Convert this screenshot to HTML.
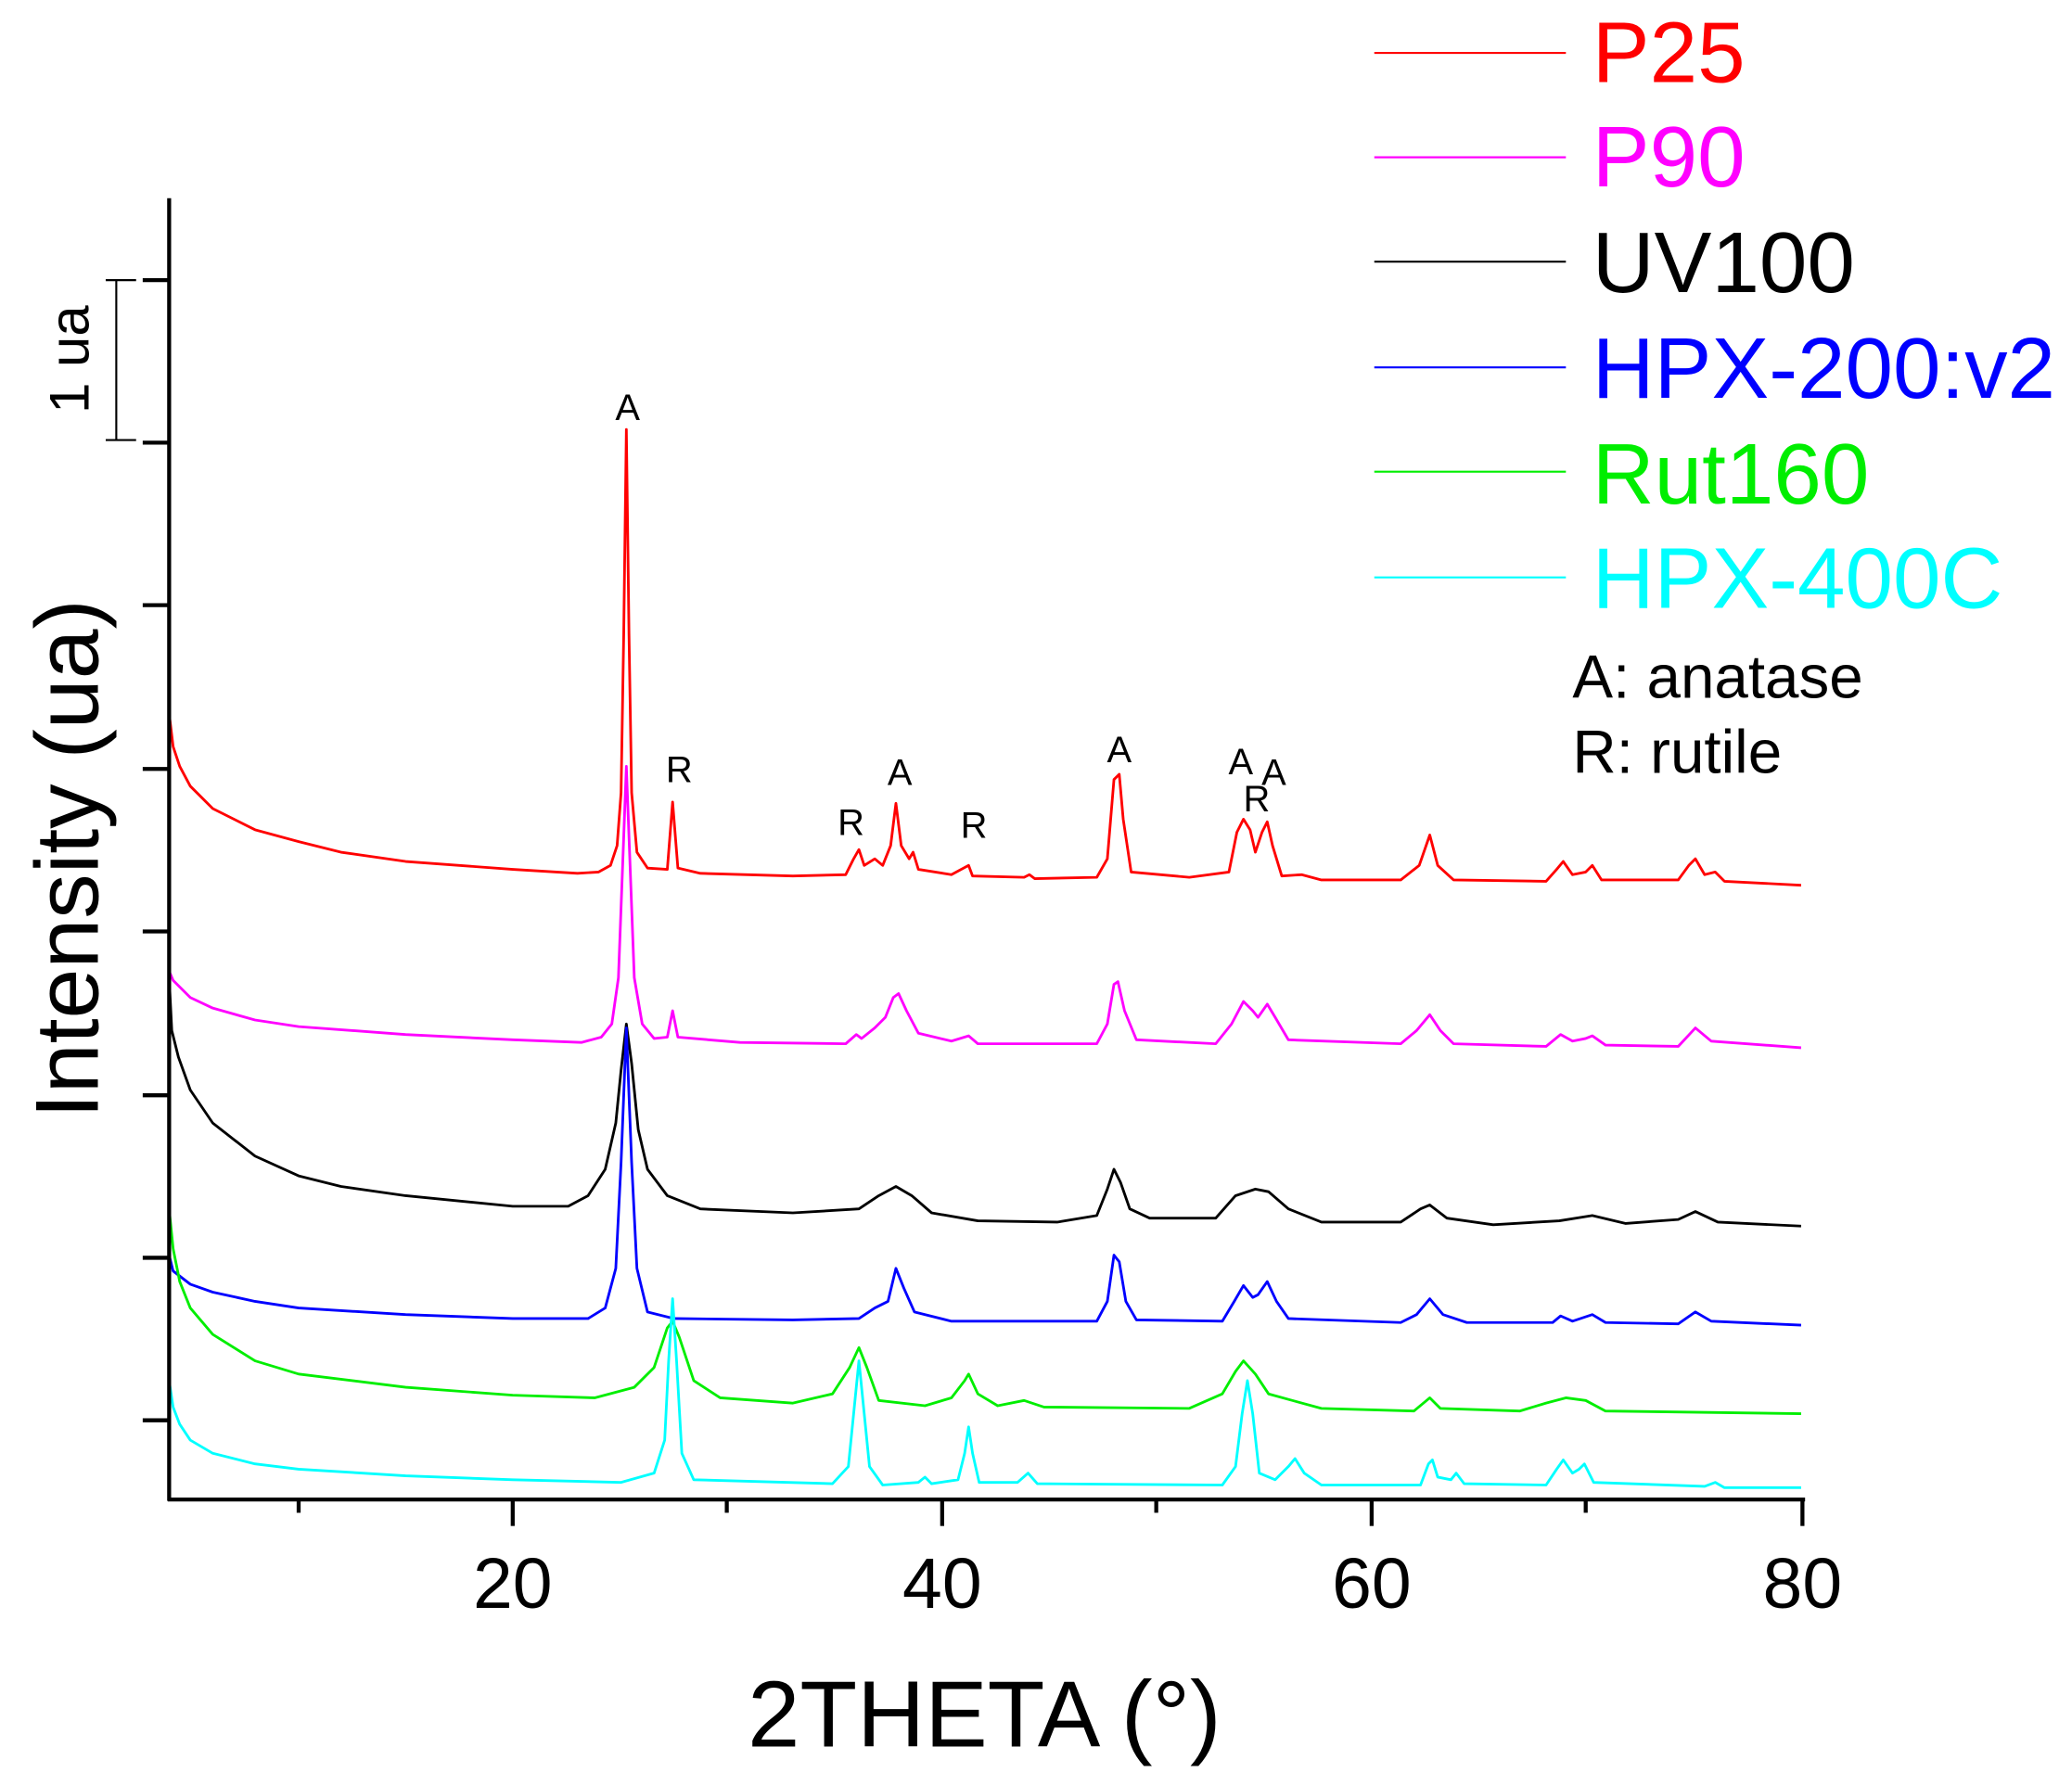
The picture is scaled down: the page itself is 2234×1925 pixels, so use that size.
<!DOCTYPE html>
<html><head><meta charset="utf-8"><style>
html,body{margin:0;padding:0;background:#fff;}
svg{display:block;}
text{font-family:"Liberation Sans",Arial,sans-serif;}
</style></head><body>
<svg xmlns="http://www.w3.org/2000/svg" width="2234" height="1925" viewBox="0 0 1568 1351">
<rect width="1568" height="1351" fill="#fff"/>
<g fill="none" stroke-width="2" stroke-linejoin="round">
<path stroke="#f00" d="M128 540 L131 565 L136 580 L144 595 L161 612 L193 628 L226 637 L258 645 L307 652 L388 658 L437 661 L453 660 L462 655 L467 640 L470 600 L472 480 L474 325 L476 480 L478 600 L482 645 L490 657 L505 658 L509 607 L513 657 L530 661 L600 663 L640 662 L646 650 L650 643 L654 655 L662 650 L668 655 L674 640 L678 608 L682 640 L688 650 L691 645 L695 658 L720 662 L733 655 L736 663 L775 664 L779 662 L783 665 L830 664 L838 650 L843 590 L847 586 L850 620 L856 660 L900 664 L930 660 L936 630 L941 620 L946 628 L950 645 L955 630 L959 622 L963 640 L970 663 L985 662 L1000 666 L1060 666 L1074 655 L1082 632 L1088 655 L1100 666 L1170 667 L1178 658 L1183 652 L1190 662 L1200 660 L1205 655 L1212 666 L1270 666 L1278 655 L1283 650 L1290 662 L1298 660 L1305 667 L1363 670"/>
<path stroke="#f0f" d="M128 735 L131 742 L144 755 L161 763 L193 772 L226 777 L307 783 L388 787 L440 789 L455 785 L463 775 L468 740 L471 660 L474 580 L477 660 L480 740 L486 775 L495 786 L505 785 L509 765 L513 785 L560 789 L640 790 L648 783 L652 786 L662 778 L670 770 L676 755 L680 752 L686 765 L695 782 L720 788 L733 784 L740 790 L830 790 L838 775 L843 745 L846 743 L851 765 L860 787 L920 790 L932 775 L941 758 L948 765 L952 770 L959 760 L965 770 L975 787 L1060 790 L1072 780 L1082 768 L1090 780 L1100 790 L1170 792 L1181 783 L1190 788 L1200 786 L1205 784 L1215 791 L1270 792 L1283 778 L1295 788 L1363 793"/>
<path stroke="#000" d="M128 740 L130 780 L135 800 L144 825 L161 850 L193 875 L226 890 L258 898 L307 905 L388 913 L430 913 L445 905 L458 885 L466 850 L470 810 L474 775 L478 805 L483 855 L490 885 L505 905 L530 915 L600 918 L650 915 L665 905 L678 898 L690 905 L705 918 L740 924 L800 925 L830 920 L838 900 L843 885 L848 895 L855 915 L870 922 L920 922 L935 905 L950 900 L960 902 L975 915 L1000 925 L1060 925 L1075 915 L1082 912 L1095 922 L1130 927 L1180 924 L1205 920 L1230 926 L1270 923 L1283 917 L1300 925 L1363 928"/>
<path stroke="#00f" d="M128 950 L131 962 L144 972 L161 978 L193 985 L226 990 L307 995 L388 998 L445 998 L458 990 L466 960 L470 880 L474 778 L478 880 L482 960 L490 993 L510 998 L600 999 L650 998 L662 990 L672 985 L678 960 L684 975 L692 993 L720 1000 L830 1000 L838 985 L843 950 L847 955 L852 985 L860 999 L925 1000 L934 985 L941 973 L948 982 L952 980 L959 970 L966 985 L975 998 L1060 1001 L1072 995 L1082 983 L1092 995 L1110 1001 L1175 1001 L1181 996 L1190 1000 L1205 995 L1215 1001 L1270 1002 L1283 993 L1295 1000 L1363 1003"/>
<path stroke="#0e0" d="M128 915 L131 945 L136 970 L144 990 L161 1010 L193 1030 L226 1040 L307 1050 L388 1056 L450 1058 L480 1050 L495 1035 L505 1005 L509 1000 L514 1012 L525 1045 L545 1058 L600 1062 L630 1055 L643 1035 L650 1020 L656 1035 L665 1060 L700 1064 L720 1058 L730 1045 L733 1040 L740 1055 L755 1064 L775 1060 L790 1065 L900 1066 L925 1055 L935 1038 L941 1030 L950 1040 L960 1055 L978 1060 L1000 1066 L1070 1068 L1082 1058 L1090 1066 L1150 1068 L1170 1062 L1185 1058 L1200 1060 L1215 1068 L1363 1070"/>
<path stroke="#0ff" d="M128 1045 L131 1065 L136 1078 L144 1090 L161 1100 L193 1108 L226 1112 L307 1117 L388 1120 L470 1122 L495 1115 L503 1090 L506 1030 L509 983 L512 1030 L516 1100 L525 1120 L630 1123 L642 1110 L647 1060 L650 1030 L653 1060 L658 1110 L668 1124 L695 1122 L700 1118 L705 1123 L725 1120 L730 1100 L733 1080 L736 1100 L741 1122 L770 1122 L778 1115 L785 1123 L925 1124 L935 1110 L940 1070 L944 1045 L948 1070 L953 1115 L965 1120 L975 1110 L980 1104 L987 1115 L1000 1124 L1075 1124 L1081 1108 L1084 1105 L1088 1118 L1098 1120 L1102 1115 L1108 1123 L1170 1124 L1178 1112 L1183 1105 L1190 1115 L1195 1112 L1199 1108 L1206 1122 L1290 1125 L1298 1122 L1305 1126 L1363 1126"/>
</g>
<g stroke="#000" stroke-width="3" fill="none">
<line x1="128" y1="150" x2="128" y2="1136"/>
<line x1="127" y1="1135" x2="1366" y2="1135"/>
<line x1="108" y1="212" x2="128" y2="212"/>
<line x1="108" y1="335" x2="128" y2="335"/>
<line x1="108" y1="458" x2="128" y2="458"/>
<line x1="108" y1="582" x2="128" y2="582"/>
<line x1="108" y1="705" x2="128" y2="705"/>
<line x1="108" y1="829" x2="128" y2="829"/>
<line x1="108" y1="952" x2="128" y2="952"/>
<line x1="108" y1="1075" x2="128" y2="1075"/>
<line x1="388" y1="1135" x2="388" y2="1155"/>
<line x1="713" y1="1135" x2="713" y2="1155"/>
<line x1="1038" y1="1135" x2="1038" y2="1155"/>
<line x1="1364" y1="1135" x2="1364" y2="1155"/>
<line x1="226" y1="1135" x2="226" y2="1145"/>
<line x1="550" y1="1135" x2="550" y2="1145"/>
<line x1="875" y1="1135" x2="875" y2="1145"/>
<line x1="1200" y1="1135" x2="1200" y2="1145"/>
</g>
<g stroke="#000" stroke-width="1.5">
<line x1="88" y1="212" x2="88" y2="333"/>
<line x1="80" y1="212" x2="103" y2="212"/>
<line x1="80" y1="333" x2="103" y2="333"/>
</g>
<text font-size="42" text-anchor="middle" transform="translate(67,272) rotate(-90)">1 ua</text>
<g font-size="54" text-anchor="middle">
<text x="388" y="1217">20</text><text x="713" y="1217">40</text><text x="1038" y="1217">60</text><text x="1364" y="1217">80</text>
</g>
<text x="745" y="1322" font-size="71" text-anchor="middle">2THETA (°)</text>
<text font-size="68" text-anchor="middle" transform="translate(74,650) rotate(-90)">Intensity (ua)</text>
<g font-size="28" text-anchor="middle">
<text x="475" y="318">A</text><text x="514" y="592">R</text><text x="644" y="632">R</text>
<text x="681" y="594">A</text><text x="737" y="634">R</text><text x="847" y="577">A</text>
<text x="939" y="586">A</text><text x="964" y="594">A</text><text x="951" y="614">R</text>
</g>
<g stroke-width="1.5">
<line x1="1040" y1="40" x2="1185" y2="40" stroke="#f00"/>
<line x1="1040" y1="119" x2="1185" y2="119" stroke="#f0f"/>
<line x1="1040" y1="198" x2="1185" y2="198" stroke="#000"/>
<line x1="1040" y1="278" x2="1185" y2="278" stroke="#00f"/>
<line x1="1040" y1="357" x2="1185" y2="357" stroke="#0e0"/>
<line x1="1040" y1="437" x2="1185" y2="437" stroke="#0ff"/>
</g>
<g font-size="65">
<text x="1205" y="62" fill="#f00">P25</text>
<text x="1205" y="141" fill="#f0f">P90</text>
<text x="1205" y="221" fill="#000">UV100</text>
<text x="1205" y="301" fill="#00f">HPX-200:v2</text>
<text x="1205" y="381" fill="#0e0">Rut160</text>
<text x="1205" y="460" fill="#0ff">HPX-400C</text>
</g>
<text x="1190" y="528" font-size="46">A: anatase</text>
<text x="1190" y="585" font-size="46">R: rutile</text>
</svg>
</body></html>
